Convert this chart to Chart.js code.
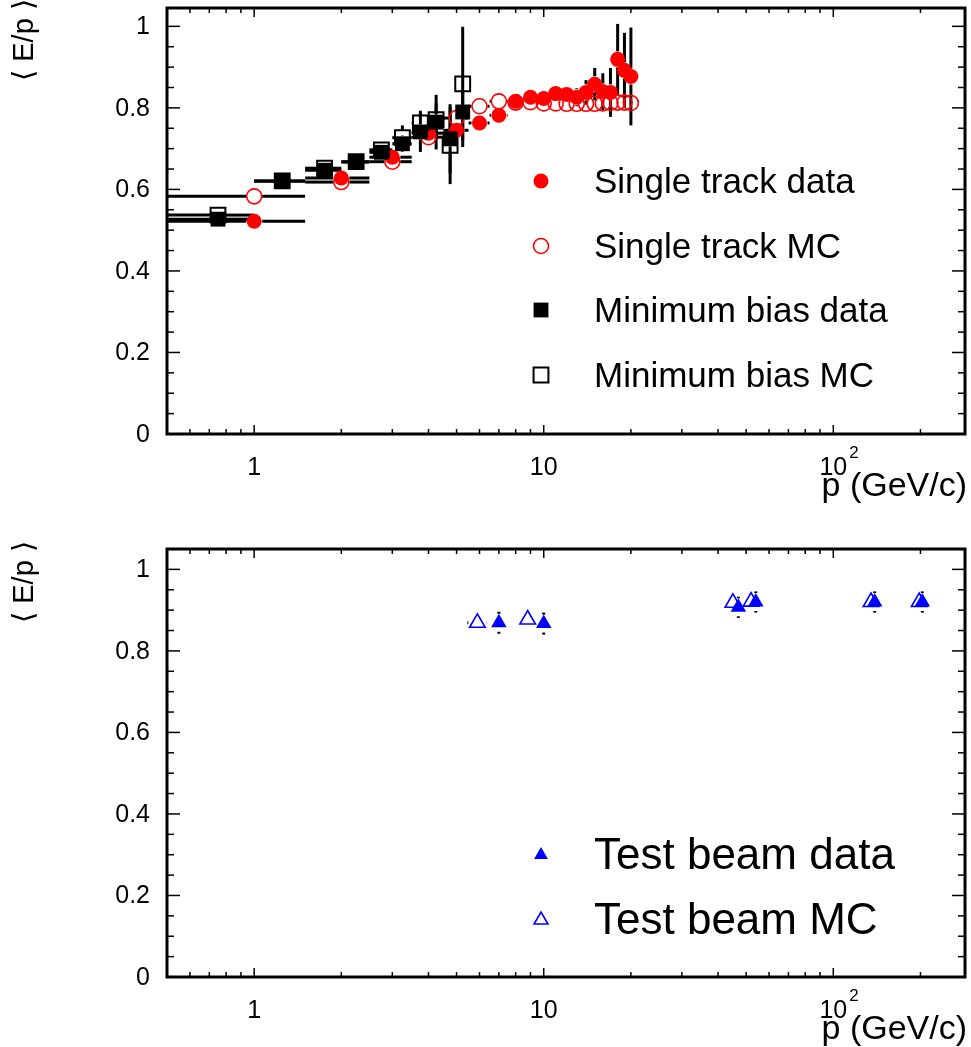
<!DOCTYPE html>
<html>
<head>
<meta charset="utf-8">
<script src="https://cdn.jsdelivr.net/npm/chart.js@4.4.1/dist/chart.umd.min.js"></script>
<style>
html,body{margin:0;padding:0;background:#fff;overflow:hidden}
canvas{position:absolute;left:0;display:block}
#c1{top:0}
#c2{top:523px}
</style>
</head>
<body>
<canvas id="c1" width="971" height="523"></canvas>
<canvas id="c2" width="971" height="524"></canvas>
<script>
// --- data ---
// single track (bins of 1 GeV/c)
const stP       = [1,2,3,4,5,6,7,8,9,10,11,12,13,14,15,16,17,18,19,20]
const stData    = [0.522,0.628,0.679,0.738,0.745,0.763,0.782,0.816,0.826,0.823,0.835,0.833,0.826,0.838,0.858,0.840,0.838,0.919,0.892,0.877]
const stDataErr = [0.005,0.005,0.006,0.008,0.010,0.010,0.010,0.012,0.012,0.014,0.016,0.018,0.022,0.030,0.040,0.045,0.060,0.087,0.092,0.120]
const stMC      = [0.583,0.618,0.668,0.728,0.775,0.804,0.816,0.813,0.814,0.811,0.811,0.810,0.810,0.810,0.810,0.811,0.812,0.813,0.813,0.812]
const stMCErr   = [0.004,0.004,0.005,0.006,0.008,0.008,0.008,0.008,0.008,0.008,0.009,0.009,0.010,0.010,0.011,0.012,0.012,0.013,0.014,0.015]
const stHalfBin = 0.5

// minimum bias (bins of 0.5 GeV/c)
const mbP       = [0.75,1.25,1.75,2.25,2.75,3.25,3.75,4.25,4.75,5.25]
const mbData    = [0.527,0.620,0.647,0.667,0.691,0.712,0.741,0.765,0.724,0.790]
const mbDataErr = [0.004,0.005,0.006,0.008,0.010,0.020,0.049,0.067,0.085,0.086]
const mbMC      = [0.537,0.621,0.652,0.668,0.697,0.727,0.763,0.771,0.708,0.859]
const mbMCErr   = [0.004,0.005,0.006,0.008,0.010,0.030,0.030,0.040,0.095,0.140]
const mbHalfBin = 0.25

// test beam
const tbDataP   = [7,10,47,54,139,203]
const tbData    = [0.869,0.867,0.907,0.920,0.920,0.920]
const tbDataErr = [0.027,0.027,0.026,0.026,0.026,0.026]
const tbMCP     = [5.9,8.8,45,52,135,198]
const tbMC      = [0.869,0.877,0.918,0.921,0.920,0.920]
const tbMCXErr  = [0.45,0,0,0,0,0]

const yTicks = [0,0.2,0.4,0.6,0.8,1]
const xLabels = [1,10,100]

const RED = '#ff0000', BLUE = '#0000ff', BLACK = '#000000'
const FONT = '"Liberation Sans", Arial, Helvetica, sans-serif'

function pts(xs, ys){ return xs.map((x,i)=>({x, y:ys[i]})) }
function fill(n, v){ return Array.from({length:n}, ()=>v) }

// --- drawing helpers ---
function txt(ctx, s, x, y, size, align, base){
  ctx.font = size+'px '+FONT
  ctx.fillStyle = BLACK
  ctx.textAlign = align || 'center'
  ctx.textBaseline = base || 'middle'
  ctx.fillText(s, x, y)
}

function marker(ctx, m, x, y){
  ctx.save()
  ctx.beginPath()
  if(m.style==='circle'){
    ctx.arc(x, y, m.r, 0, Math.PI*2)
  } else if(m.style==='rect'){
    const s = m.r*Math.SQRT1_2
    ctx.rect(x-s, y-s, 2*s, 2*s)
  } else {
    let a = 0
    ctx.moveTo(x + Math.sin(a)*m.r, y - Math.cos(a)*m.r)
    a += 2*Math.PI/3
    ctx.lineTo(x + Math.sin(a)*m.r, y - Math.cos(a)*m.r)
    a += 2*Math.PI/3
    ctx.lineTo(x + Math.sin(a)*m.r, y - Math.cos(a)*m.r)
    ctx.closePath()
  }
  if(m.filled){ ctx.fillStyle = m.color; ctx.fill() }
  else { ctx.strokeStyle = m.color; ctx.lineWidth = m.bw; ctx.stroke() }
  ctx.restore()
}

// error bars with a gap round the marker
const errorBars = {
  id:'errorBars',
  beforeDatasetsDraw(chart){
    const {ctx, chartArea:a, scales:{x:xs, y:ys}} = chart
    ctx.save()
    ctx.beginPath(); ctx.rect(a.left, a.top, a.right-a.left, a.bottom-a.top); ctx.clip()
    ctx.strokeStyle = BLACK; ctx.lineWidth = 3; ctx.lineCap = 'butt'
    const seg = (x1,y1,x2,y2)=>{ ctx.beginPath(); ctx.moveTo(x1,y1); ctx.lineTo(x2,y2); ctx.stroke() }
    chart.data.datasets.forEach(ds=>{
      if(!ds.err) return
      const g = ds.gap
      ds.data.forEach((p,i)=>{
        const px = xs.getPixelForValue(p.x), py = ys.getPixelForValue(p.y)
        const ey = ds.err.y ? ds.err.y[i] : 0
        if(ey){
          const t = ys.getPixelForValue(p.y+ey), b = ys.getPixelForValue(p.y-ey)
          if(t < py-g) seg(px, t, px, py-g)
          if(b > py+g) seg(px, py+g, px, b)
        }
        const ex = ds.err.x ? ds.err.x[i] : 0
        if(ex){
          const l = xs.getPixelForValue(p.x-ex), r = xs.getPixelForValue(p.x+ex)
          if(l < px-g) seg(l, py, px-g, py)
          if(r > px+g) seg(px+g, py, r, py)
        }
      })
    })
    ctx.restore()
  }
}

function framePlugin(panel){
  return {
    id:'frame',
    afterDraw(chart){
      const {ctx, chartArea:a, scales:{x:xs, y:ys}} = chart
      ctx.save()
      // ticks on all four sides
      ctx.strokeStyle = BLACK; ctx.lineWidth = 1.5
      const line = (x1,y1,x2,y2)=>{ ctx.beginPath(); ctx.moveTo(x1,y1); ctx.lineTo(x2,y2); ctx.stroke() }
      for(let k=0; k*0.05 <= panel.yMax+1e-9; k++){
        const v = k*0.05, py = ys.getPixelForValue(v)
        const len = (k%4===0) ? 13 : 7
        line(a.left, py, a.left+len, py)
        line(a.right, py, a.right-len, py)
      }
      for(let d=-1; d<=2; d++){
        for(let k=1; k<=9; k++){
          const v = k*Math.pow(10,d)
          if(v < xs.min-1e-9 || v > xs.max) continue
          const px = xs.getPixelForValue(v), len = (k===1) ? 9 : 5
          line(px, a.bottom, px, a.bottom-len)
          line(px, a.top, px, a.top+len)
        }
      }
      // frame
      ctx.lineWidth = 3
      ctx.strokeRect(a.left, a.top, a.right-a.left, a.bottom-a.top)

      // y labels
      yTicks.forEach(v=> txt(ctx, String(+v.toFixed(1)), a.left-17, ys.getPixelForValue(v)+1, 25, 'right'))
      // x labels
      const ly = a.bottom + 34
      xLabels.forEach(v=>{
        const px = xs.getPixelForValue(v)
        if(v===100){
          txt(ctx, '10', px, ly, 25)
          txt(ctx, '2', px+16, ly-15, 17, 'left')
        } else txt(ctx, String(v), px, ly, 25)
      })
      // axis titles
      txt(ctx, 'p (GeV/c)', a.right+2, a.bottom+53, 34, 'right')
      ctx.save()
      ctx.translate(25, panel.yTitleY)
      ctx.rotate(-Math.PI/2)
      txt(ctx, '\u27E8 E/p \u27E9', 0, 0, 29)
      ctx.restore()

      // legend
      panel.legend.forEach(it=>{
        marker(ctx, it.m, 541, it.y)
        txt(ctx, it.label, 594, it.y+2, panel.legendSize, 'left')
      })
      ctx.restore()
    }
  }
}

function makeChart(id, datasets, panel){
  return new Chart(document.getElementById(id), {
    type:'scatter',
    data:{datasets},
    options:{
      responsive:false, animation:false,
      layout:{autoPadding:false, padding:{top:panel.padTop, right:6, left:0, bottom:0}},
      plugins:{legend:{display:false}, tooltip:{enabled:false}},
      scales:{
        x:{type:'logarithmic', min:0.5, max:285,
           grid:{display:false}, border:{display:false}, ticks:{display:false},
           afterFit(s){ s.height = panel.axisH }},
        y:{min:0, max:panel.yMax,
           grid:{display:false}, border:{display:false}, ticks:{display:false},
           afterFit(s){ s.width = 167 }}
      }
    },
    plugins:[errorBars, framePlugin(panel)]
  })
}

// marker styles
const mStData = {style:'circle', r:7.5, filled:true,  color:RED}
const mStMC   = {style:'circle', r:7.5, filled:false, color:RED, bw:1.6}
const mMbData = {style:'rect',   r:10.5, filled:true,  color:BLACK}
const mMbMC   = {style:'rect',   r:10.5, filled:false, color:BLACK, bw:2}
const mTbData = {style:'triangle', r:9, filled:true,  color:BLUE}
const mTbMC   = {style:'triangle', r:9, filled:false, color:BLUE, bw:1.6}

function ds(label, data, m, order, err, gap){
  return {
    label, data, order, err, gap,
    pointStyle: m.style, pointRadius: m.r, pointHoverRadius: m.r,
    pointBackgroundColor: m.filled ? m.color : 'rgba(0,0,0,0)',
    pointBorderColor: m.color,
    pointBorderWidth: m.filled ? 0 : m.bw,
    showLine:false
  }
}

try {
  makeChart('c1', [
    ds('Single track data', pts(stP, stData), mStData, 2, {y:stDataErr, x:fill(stP.length, stHalfBin)}, 8),
    ds('Single track MC',   pts(stP, stMC),   mStMC,   3, {y:stMCErr,   x:fill(stP.length, stHalfBin)}, 8),
    ds('Minimum bias data', pts(mbP, mbData), mMbData, 0, {y:mbDataErr, x:fill(mbP.length, mbHalfBin)}, 7.5),
    ds('Minimum bias MC',   pts(mbP, mbMC),   mMbMC,   1, {y:mbMCErr,   x:fill(mbP.length, mbHalfBin)}, 7.5)
  ], {
    padTop:8, axisH:89, yMax:1.045, yTitleY:40, legendSize:35,
    legend:[
      {label:'Single track data', m:mStData, y:181},
      {label:'Single track MC',   m:mStMC,   y:246},
      {label:'Minimum bias data', m:mMbData, y:310},
      {label:'Minimum bias MC',   m:mMbMC,   y:375}
    ]
  })
} catch(e) {
  console.error('Error drawing top panel:', e)
}

try {
  makeChart('c2', [
    ds('Test beam data', pts(tbDataP, tbData), mTbData, 0, {y:tbDataErr}, 9),
    ds('Test beam MC',   pts(tbMCP, tbMC),     mTbMC,   1, {x:tbMCXErr}, 9)
  ], {
    padTop:26, axisH:70, yMax:1.05, yTitleY:59, legendSize:44,
    legend:[
      {label:'Test beam data', m:{style:'triangle', r:8, filled:true,  color:BLUE}, y:332},
      {label:'Test beam MC',   m:{style:'triangle', r:8, filled:false, color:BLUE, bw:1.6}, y:397}
    ]
  })
} catch(e) {
  console.error('Error drawing bottom panel:', e)
}
</script>
</body>
</html>
